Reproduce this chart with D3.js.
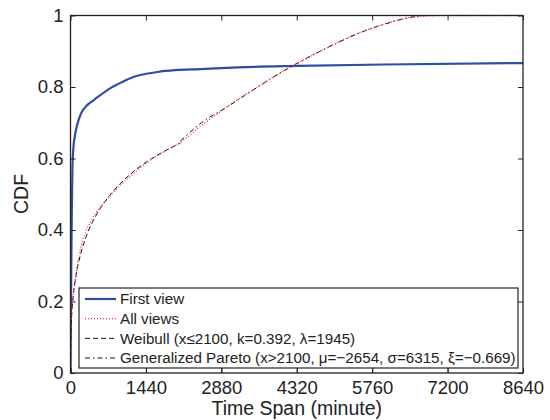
<!DOCTYPE html>
<html>
<head>
<meta charset="utf-8">
<script src="https://cdn.jsdelivr.net/npm/d3@7"></script>
<style>
  body { margin: 0; background: #fff; }
  svg { display: block; font-family: "Liberation Sans", Arial, Helvetica, sans-serif; }
</style>
</head>
<body>
<svg id="chart" width="550" height="420"></svg>
<script>
// ---- data ----
const xTicks = [0, 1440, 2880, 4320, 5760, 7200, 8640];
const yTicks = [0, 0.2, 0.4, 0.6, 0.8, 1];

const firstViewT   = [0, 5, 15, 25, 38, 55, 80, 120, 204, 324, 458, 763, 1000, 1202, 1450, 1659, 2000, 2480, 3200, 4330, 6000, 8640];
const firstViewCdf = [0, 0.10, 0.30, 0.45, 0.58, 0.63, 0.66, 0.69, 0.727, 0.75, 0.765, 0.797, 0.815, 0.828, 0.837, 0.842, 0.847, 0.85, 0.855, 0.859, 0.863, 0.867];

const allViewsT   = [0, 5, 15, 40, 80, 140, 230, 305, 460, 630, 750, 900, 1200, 1500, 1850, 2100, 2480, 2880, 3109, 3500, 3757, 4330, 5017, 5400, 5780, 6200, 6617, 7190, 8640];
const allViewsCdf = [0, 0.09, 0.15, 0.20, 0.25, 0.31, 0.37, 0.40, 0.443, 0.475, 0.495, 0.518, 0.557, 0.593, 0.624, 0.645, 0.69, 0.733, 0.757, 0.793, 0.817, 0.866, 0.918, 0.945, 0.966, 0.985, 0.997, 1.0, 1.0];

const weibullT   = [0, 5, 20, 50, 100, 200, 300, 500, 750, 1000, 1250, 1500, 1800, 2100];
const weibullCdf = [0, 0.092, 0.153, 0.212, 0.268, 0.336, 0.382, 0.444, 0.497, 0.537, 0.569, 0.595, 0.621, 0.643];

const paretoT   = [2100, 2500, 3000, 3500, 4000, 4500, 5000, 5500, 6000, 6500, 6785, 8640];
const paretoCdf = [0.649, 0.700, 0.745, 0.793, 0.839, 0.880, 0.917, 0.950, 0.976, 0.995, 1.0, 1.0];

const legendLabels = [
  "First view",
  "All views",
  "Weibull (x\u22642100, k=0.392, \u03BB=1945)",
  "Generalized Pareto (x>2100, \u03BC=\u22122654, \u03C3=6315, \u03BE=\u22120.669)"
];

// ---- layout ----
const svg = d3.select("#chart");
const L = 70.5, R = 523, T = 15.5, B = 373;
const x = d3.scaleLinear().domain([0, 8640]).range([L, R]);
const y = d3.scaleLinear().domain([0, 1]).range([B, T]);

const styles = [
  { stroke: "#2e4ea6", width: 2.2, dash: null },
  { stroke: "#ff2a2a", width: 1.3, dash: "1,2" },
  { stroke: "#111", width: 1, dash: "5,3" },
  { stroke: "#111", width: 1, dash: "5,3,1.5,3" }
];

const line = d3.line().x(d => x(d[0])).y(d => y(d[1])).curve(d3.curveMonotoneX);
const zip = (a, b) => a.map((v, i) => [v, b[i]]);

const series = [
  zip(firstViewT, firstViewCdf),
  zip(allViewsT, allViewsCdf),
  zip(weibullT, weibullCdf),
  zip(paretoT, paretoCdf)
];

svg.append("clipPath").attr("id", "clip")
  .append("rect").attr("x", L).attr("y", T - 2).attr("width", R - L).attr("height", B - T + 2);

const plot = svg.append("g").attr("clip-path", "url(#clip)");
[0, 2, 3, 1].forEach(i => {
  const st = styles[i];
  plot.append("path")
    .attr("d", line(series[i]))
    .attr("fill", "none")
    .attr("stroke", st.stroke)
    .attr("stroke-width", st.width)
    .attr("stroke-dasharray", st.dash);
});

// ---- axes ----
const fs = 18.5;
const xAxis = d3.axisBottom(x).tickValues(xTicks).tickSize(-5).tickPadding(8).tickFormat(d3.format("d"));
const yAxis = d3.axisLeft(y).tickValues(yTicks).tickSize(-5).tickPadding(7).tickFormat(d => d === 0 || d === 1 ? String(d) : d.toFixed(1));
const xAxisTop = d3.axisTop(x).tickValues(xTicks).tickSize(-5).tickFormat("");
const yAxisRight = d3.axisRight(y).tickValues(yTicks).tickSize(-5).tickFormat("");

function styleAxis(g) {
  g.select(".domain").remove();
  g.selectAll(".tick line").attr("stroke", "#222").attr("stroke-width", 1);
  g.selectAll("text").attr("fill", "#222").style("font-size", fs + "px").attr("font-family", null);
}

svg.append("g").attr("transform", `translate(0,${B})`).call(xAxis).call(styleAxis)
  .selectAll("text").attr("dy", "0.71em");
svg.append("g").attr("transform", `translate(${L},0)`).call(yAxis).call(styleAxis);
svg.append("g").attr("transform", `translate(0,${T})`).call(xAxisTop).call(styleAxis);
svg.append("g").attr("transform", `translate(${R},0)`).call(yAxisRight).call(styleAxis);

svg.append("rect").attr("x", L).attr("y", T).attr("width", R - L).attr("height", B - T)
  .attr("fill", "none").attr("stroke", "#222").attr("stroke-width", 1.3);

// axis titles
svg.append("text").attr("x", (L + R) / 2).attr("y", 415).attr("text-anchor", "middle")
  .style("font-size", "19.5px").attr("fill", "#222").text("Time Span (minute)");
svg.append("text").attr("transform", `translate(28,194) rotate(-90)`).attr("text-anchor", "middle")
  .style("font-size", "19.5px").attr("fill", "#222").text("CDF");

// ---- legend ----
const lg = svg.append("g");
lg.append("rect").attr("x", 79).attr("y", 288).attr("width", 439).attr("height", 80)
  .attr("fill", "#fff").attr("stroke", "#222").attr("stroke-width", 1.2);
const rowY = d3.scaleLinear().domain([0, 3]).range([299, 358]);
legendLabels.forEach((lab, i) => {
  const st = styles[i];
  lg.append("line").attr("x1", 85).attr("x2", 116).attr("y1", rowY(i)).attr("y2", rowY(i))
    .attr("stroke", st.stroke).attr("stroke-width", st.width).attr("stroke-dasharray", st.dash);
  lg.append("text").attr("x", 120).attr("y", rowY(i)).attr("dy", "0.36em")
    .style("font-size", "15.2px").attr("fill", "#222").text(lab);
});
// bottom axis ticks stay visible over the legend
svg.append("g").attr("transform", `translate(0,${B})`).call(d3.axisBottom(x).tickValues(xTicks).tickSize(-5).tickFormat(""))
  .call(g => { g.select(".domain").remove(); g.selectAll(".tick line").attr("stroke", "#222"); });
</script>
</body>
</html>
